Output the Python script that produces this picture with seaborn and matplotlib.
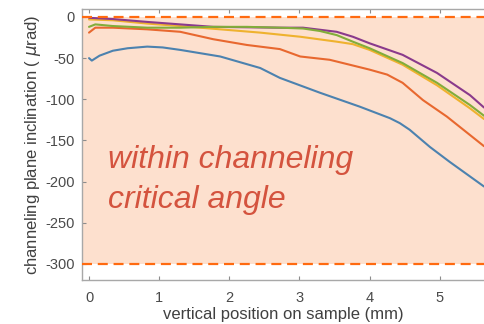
import numpy as np
import pandas as pd
import matplotlib
matplotlib.use("Agg")
import matplotlib.pyplot as plt
import seaborn as sns

# ---- data ----
blue_x = [0.0, 0.04, 0.15, 0.34, 0.55, 0.83, 1.05, 1.30, 1.87, 2.44, 2.72, 3.29, 3.86, 4.29, 4.43, 4.57, 4.86, 5.14, 5.63]
blue_y = [-50, -53, -47, -41, -38, -36, -37, -40, -48, -62, -74, -92, -109, -123, -129, -137, -158, -176, -206]

orange_x = [0.0, 0.09, 0.34, 0.83, 1.30, 1.77, 2.25, 2.72, 3.01, 3.43, 4.00, 4.25, 4.47, 4.76, 5.10, 5.63]
orange_y = [-19, -13, -13, -15, -18, -27, -34, -39, -48, -52, -64, -70, -80, -101, -121, -157]

yellow_x = [0.0, 0.34, 0.83, 1.30, 1.87, 2.44, 3.01, 3.53, 3.76, 4.00, 4.47, 4.96, 5.43, 5.63]
yellow_y = [-3, -4, -8, -11, -15, -19, -24, -30, -33, -40, -58, -83, -111, -124]

purple_x = [0.0, 0.34, 0.83, 1.30, 1.77, 2.72, 3.05, 3.53, 3.76, 4.00, 4.47, 4.96, 5.43, 5.63]
purple_y = [-1, -2.5, -6, -9, -12, -13, -13, -18, -24, -32, -46, -68, -95, -110]

green_x = [0.0, 0.09, 0.34, 0.83, 1.30, 1.77, 2.25, 2.72, 3.05, 3.29, 3.53, 3.76, 4.00, 4.47, 4.96, 5.43, 5.63]
green_y = [-12, -9, -11, -13, -13, -12, -12, -13, -14, -17, -22, -30, -38, -56, -80, -107, -120]

series_names = ["s1", "s2", "s3", "s4", "s5"]
series_x = [blue_x, orange_x, yellow_x, purple_x, green_x]
series_y = [blue_y, orange_y, yellow_y, purple_y, green_y]
series_colors = ["#4C82AF", "#E8682F", "#EFB22E", "#8A3A8C", "#82AD3A"]

critical_lo, critical_hi = -300, 0
yticks = [0, -50, -100, -150, -200, -250, -300]
xticks = [0, 1, 2, 3, 4, 5]

rows = []
for name, xs, ys in zip(series_names, series_x, series_y):
    for x, y in zip(xs, ys):
        rows.append({"pos": x, "incl": y, "series": name})
df = pd.DataFrame(rows)

sns.set_theme(style="white")
plt.rcParams["font.family"] = ["Liberation Sans", "DejaVu Sans"]
plt.rcParams["axes.unicode_minus"] = False

fig = plt.figure(figsize=(4.84, 3.24), dpi=100)
ax = fig.add_axes([82 / 484, 1 - 280 / 324, 1 - 82 / 484, (280 - 9) / 324])

ax.axhspan(critical_lo, critical_hi, color="#FDE0CE", zorder=0, lw=0)

sns.lineplot(data=df, x="pos", y="incl", hue="series", palette=series_colors,
             hue_order=series_names, sort=False, estimator=None,
             linewidth=1.5, legend=False, ax=ax, zorder=3)

for yv in (critical_hi, critical_lo):
    ax.axhline(yv, color="#FF6A10", lw=1.6, dashes=(4.5, 2.6), zorder=4)

ax.set_xlim(-0.1, 5.63)
ax.set_ylim(-319.6, 9.7)
ax.set_xticks(xticks)
ax.set_yticks(yticks)
ax.set_xticklabels([str(t) for t in xticks])
ax.set_yticklabels([str(t) for t in yticks])

ax.tick_params(axis="both", direction="in", length=3, width=0.8, color="#8C8C8C",
               labelsize=10.5, labelcolor="#4A4A4A", pad=5)
ax.tick_params(axis="x", top=True, bottom=True, pad=8)
ax.tick_params(axis="y", left=True)
for side in ("left", "top", "bottom"):
    ax.spines[side].set_color("#A8A8A8")
    ax.spines[side].set_linewidth(1.0)
ax.spines["right"].set_visible(False)

ax.set_xlabel("vertical position on sample (mm)", fontsize=12, color="#404040", labelpad=1)
ax.set_ylabel(r"channeling plane inclination ( $\mu$rad)", fontsize=12, color="#404040", labelpad=2)

ax.text(0.27, -183.5, "within channeling", fontsize=23, style="italic",
        color="#D4533E", va="baseline", ha="left", zorder=5)
ax.text(0.27, -232, "critical angle", fontsize=23, style="italic",
        color="#D4533E", va="baseline", ha="left", zorder=5)

fig.savefig("out.png", dpi=100)
